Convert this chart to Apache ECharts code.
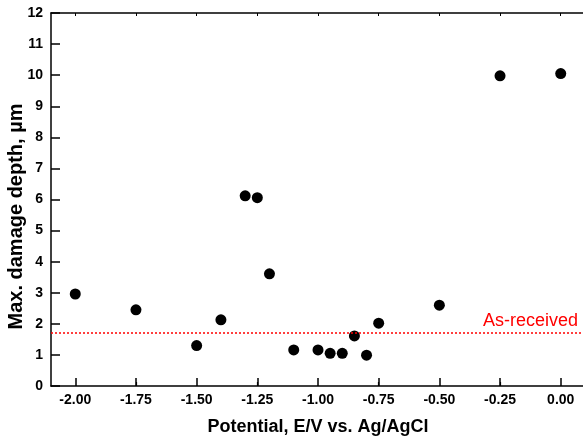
<!DOCTYPE html>
<html>
<head>
<meta charset="utf-8">
<script src="https://cdn.jsdelivr.net/npm/echarts@6/dist/echarts.min.js"></script>
<style>html,body{margin:0;padding:0;background:#fff}#c{width:583px;height:439px}</style>
</head>
<body>
<div id="c"></div>
<script>
const potentials = [-2.00, -1.75, -1.50, -1.40, -1.30, -1.25, -1.20, -1.10, -1.00, -0.95, -0.90, -0.85, -0.80, -0.75, -0.50, -0.25, 0.00];
const depths     = [2.96, 2.45, 1.30, 2.13, 6.12, 6.06, 3.61, 1.16, 1.16, 1.05, 1.05, 1.61, 0.99, 2.02, 2.60, 9.98, 10.05];
const asReceived = 1.71;
const asReceivedLabel = 'As-received';
const xTitle = 'Potential, E/V vs. Ag/AgCl';
const yTitle = 'Max. damage depth, \u00b5m';
const xTicks = [-2, -1.75, -1.5, -1.25, -1, -0.75, -0.5, -0.25, 0];

const font = 'Liberation Sans, Arial, sans-serif';
const chart = echarts.init(document.getElementById('c'), null, {renderer: 'canvas'});
chart.setOption({
  animation: false,
  backgroundColor: '#fff',
  grid: {left: 51, top: 13, width: 534, bottom: 53, containLabel: false, outerBoundsMode: 'none'},
  xAxis: [{
    type: 'value', min: -2.1, max: 0.1,
    position: 'bottom',
    name: xTitle, nameLocation: 'middle', nameGap: 32, nameMoveOverlap: false,
    nameTextStyle: {fontFamily: font, fontWeight: 'bold', fontSize: 18, color: '#000'},
    axisLine: {onZero: false, lineStyle: {color: '#000', width: 1.5}},
    axisTick: {inside: true, length: 8, lineStyle: {color: '#000', width: 1.5}, customValues: xTicks},
    minorTick: {show: true, splitNumber: 2, length: 4, lineStyle: {color: '#000', width: 1.2}},
    axisLabel: {fontFamily: font, fontWeight: 'bold', fontSize: 14, color: '#000', margin: 7,
      customValues: xTicks,
      formatter: v => v.toFixed(2)},
    splitLine: {show: false}
  }, {
    type: 'value', min: -2.1, max: 0.1, position: 'top',
    axisLine: {onZero: false, lineStyle: {color: '#000', width: 1.5}},
    axisTick: {inside: true, length: 3, lineStyle: {color: '#000', width: 1}, customValues: xTicks},
    axisLabel: {show: false}, splitLine: {show: false}
  }],
  yAxis: [{
    type: 'value', min: 0, max: 12, interval: 1,
    name: yTitle, nameLocation: 'middle', nameGap: 25, nameRotate: 90, nameMoveOverlap: false,
    nameTextStyle: {fontFamily: font, fontWeight: 'bold', fontSize: 20, color: '#000', padding: [0, 34, 0, 0]},
    axisLine: {onZero: false, lineStyle: {color: '#000', width: 1.5}},
    axisTick: {inside: true, length: 9, lineStyle: {color: '#000', width: 1.5}},
    axisLabel: {fontFamily: font, fontWeight: 'bold', fontSize: 14, color: '#000', margin: 8},
    splitLine: {show: false}
  }],
  series: [{
    type: 'scatter',
    data: potentials.map((p, i) => [p, depths[i]]),
    symbol: 'circle', symbolSize: 11,
    itemStyle: {color: '#000', opacity: 1},
    markLine: {
      silent: true, symbol: 'none',
      lineStyle: {color: '#ff0000', type: [2, 2], width: 1.5},
      label: {show: true, position: 'insideEndTop', formatter: asReceivedLabel,
        fontFamily: font, fontSize: 18, color: '#ff0000', distance: [7, 3]},
      data: [{yAxis: asReceived}]
    }
  }]
});
</script>
</body>
</html>
